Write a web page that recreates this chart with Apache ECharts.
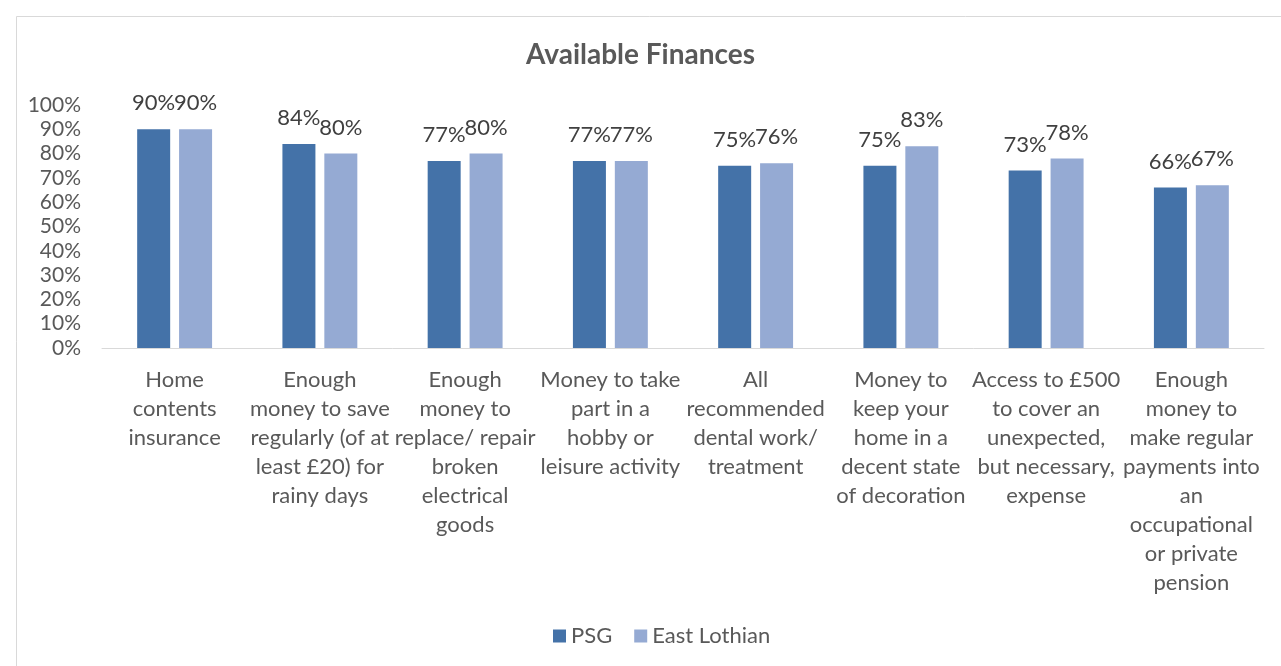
<!DOCTYPE html>
<html><head><meta charset="utf-8">
<script src="https://cdn.jsdelivr.net/npm/echarts@6/dist/echarts.min.js"></script>
<style>html,body{margin:0;padding:0;background:#fff}#c{width:1281px;height:666px}</style>
</head><body><div id="c"></div>
<script>
const categories = [
  "Home\ncontents\ninsurance",
  "Enough\nmoney to save\nregularly (of at\nleast £20) for\nrainy days",
  "Enough\nmoney to\nreplace/ repair\nbroken\nelectrical\ngoods",
  "Money to take\npart in a\nhobby or\nleisure activity",
  "All\nrecommended\ndental work/\ntreatment",
  "Money to\nkeep your\nhome in a\ndecent state\nof decoration",
  "Access to £500\nto cover an\nunexpected,\nbut necessary,\nexpense",
  "Enough\nmoney to\nmake regular\npayments into\nan\noccupational\nor private\npension"
];
const psg = [90, 84, 77, 77, 75, 75, 73, 66];
const eastLothian = [90, 80, 80, 77, 76, 83, 78, 67];
const yTicks = [0, 10, 20, 30, 40, 50, 60, 70, 80, 90, 100];

const FONT = "Lato, 'Open Sans', sans-serif";
const chart = echarts.init(document.getElementById('c'));
chart.setOption({
  animation: false,
  backgroundColor: '#fff',
  graphic: [{type:'rect', left: 14, top: 14, shape:{width: 1280, height: 660}, style:{fill:'none', stroke:'#d9d9d9', lineWidth:1}, silent:true}],
  title: {text: 'Available Finances', left: 'center', top: 36,
    textStyle: {fontFamily: FONT, fontSize: 28, fontWeight: 'bold', color: '#595959'}},
  legend: {bottom: 14, left: 548, itemWidth: 13, itemHeight: 13, itemGap: 22,
    icon: 'rect',
    textStyle: {fontFamily: FONT, fontSize: 22, color: '#595959'},
    data: ['PSG', 'East Lothian']},
  grid: {left: 102, right: 17, top: 105, bottom: 318, containLabel: false},
  xAxis: {type: 'category', data: categories,
    axisLine: {lineStyle: {color: '#d9d9d9', width: 1}},
    axisTick: {show: false},
    axisLabel: {interval: 0, margin: 17, lineHeight: 29, fontFamily: FONT, fontSize: 22, color: '#595959'}},
  yAxis: {type: 'value', min: 0, max: 100, interval: 10,
    axisLine: {show: false}, axisTick: {show: false}, splitLine: {show: false},
    axisLabel: {margin: 21, fontFamily: FONT, fontSize: 21, color: '#595959', formatter: v => v + '%'}},
  series: [
    {name: 'PSG', type: 'bar', data: psg, barWidth: 33, barGap: '27%',
      itemStyle: {color: '#4472a8'},
      label: {show: true, position: 'top', distance: 15, fontFamily: FONT, fontSize: 22, color: '#404040', formatter: p => p.value + '%'}},
    {name: 'East Lothian', type: 'bar', data: eastLothian, barWidth: 33,
      itemStyle: {color: '#95aad3'},
      label: {show: true, position: 'top', distance: 15, fontFamily: FONT, fontSize: 22, color: '#404040', formatter: p => p.value + '%'}}
  ]
});
</script></body></html>
